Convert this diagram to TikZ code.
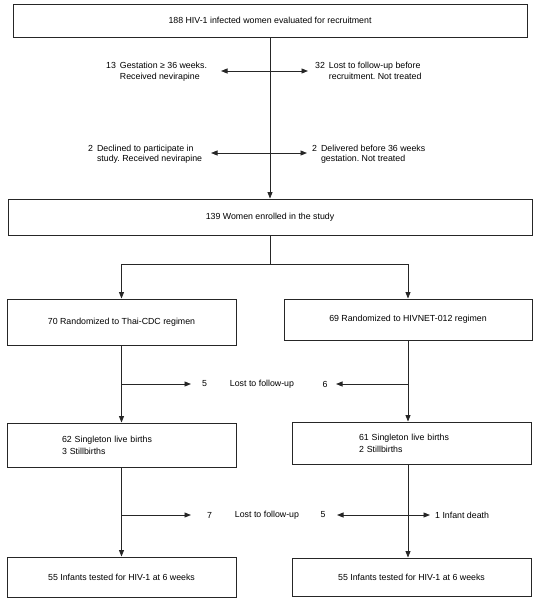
\documentclass[tikz,border=0pt]{standalone}
\usepackage{fontspec}
\setmainfont{Liberation Sans}
\usetikzlibrary{arrows.meta,positioning}
\frenchspacing

\begin{document}
\begin{tikzpicture}[x=1pt,y=-1pt]
			\tikzstyle{Box}		= [draw=black!85, line width=0.9pt, inner sep=0pt, font=\fontsize{8.8}{12}\selectfont]
			\tikzstyle{Note}	= [inner sep=0pt, font=\fontsize{8.8}{10.5}\selectfont]
			\tikzstyle{Flow}	= [black!85, line width=0.9pt]
			\tikzstyle{Tip}		= [-{Triangle[length=6.5pt,width=5pt]}]
			\useasboundingbox (0,0) rectangle (539,600);
			
			\node (recruit) at (270,20.5) [Box, minimum width=514pt, minimum height=33pt] {188 HIV-1 infected women evaluated for recruitment};
			\node (enrol) at (270,217) [Box, minimum width=524pt, minimum height=36pt] {139 Women enrolled in the study};
			\node (thai) at (121.5,322) [Box, minimum width=229pt, minimum height=46pt] {70 Randomized to Thai-CDC regimen};
			\node (hivnet) at (408,319.5) [Box, minimum width=248pt, minimum height=41pt] {69 Randomized to HIVNET-012 regimen};
			\node (birthsL) at (121.5,445) [Box, minimum width=229pt, minimum height=44pt, text width=119pt, inner xsep=55pt, align=left] {62 Singleton live births\\3 Stillbirths};
			\node (birthsR) at (411.5,443) [Box, minimum width=239pt, minimum height=42pt, text width=105pt, inner xsep=67pt, align=left] {61 Singleton live births\\2 Stillbirths};
			\node (testL) at (121.5,577) [Box, minimum width=229pt, minimum height=40pt] {55 Infants tested for HIV-1 at 6 weeks};
			\node (testR) at (411.5,577) [Box, minimum width=239pt, minimum height=38pt] {55 Infants tested for HIV-1 at 6 weeks};
			
			% exclusions before enrolment
			\node (gest) at (106,72) [Note, anchor=west] {\begin{tabular}{@{}l@{\hspace{4pt}}l@{}}13 & Gestation ≥ 36 weeks.\\ & Received nevirapine\end{tabular}};
			\node (lostpre) at (315,72) [Note, anchor=west] {\begin{tabular}{@{}l@{\hspace{4pt}}l@{}}32 & Lost to follow-up before\\ & recruitment. Not treated\end{tabular}};
			\node (declined) at (88,154.5) [Note, anchor=west] {\begin{tabular}{@{}l@{\hspace{4pt}}l@{}}2 & Declined to participate in\\ & study. Received nevirapine\end{tabular}};
			\node (early) at (312,154.5) [Note, anchor=west] {\begin{tabular}{@{}l@{\hspace{4pt}}l@{}}2 & Delivered before 36 weeks\\ & gestation. Not treated\end{tabular}};
			
			% losses after randomization
			\node (lostA) at (204.5,384) [Note] {5};
			\node (lostAtext) at (262,384) [Note] {Lost to follow-up};
			\node (lostB) at (325,384) [Note] {6};
			\node (lostC) at (209.5,515) [Note] {7};
			\node (lostCtext) at (267,515) [Note] {Lost to follow-up};
			\node (lostD) at (323,515) [Note] {5};
			\node (death) at (435,515) [Note, anchor=west] {1 Infant death};
			
			\coordinate (j1) at (270,71);
			\coordinate (j1L) at (221,71);
			\coordinate (j1R) at (308,71);
			\coordinate (j2) at (270,153);
			\coordinate (j2L) at (211,153);
			\coordinate (j2R) at (307,153);
			\coordinate (split) at (270,264);
			\coordinate (j3L) at (121.5,384);
			\coordinate (j3Ltip) at (191,384);
			\coordinate (j3R) at (408,384);
			\coordinate (j3Rtip) at (336,384);
			\coordinate (j4L) at (121.5,515);
			\coordinate (j4Ltip) at (191,515);
			\coordinate (j4R) at (408,515);
			\coordinate (j4Rl) at (337,515);
			\coordinate (j4Rr) at (430,515);
			
			\draw [Tip] (recruit) to (enrol) [Flow];
			\draw [Tip] (j1) to (j1L) [Flow];
			\draw [Tip] (j1) to (j1R) [Flow];
			\draw [Tip] (j2) to (j2L) [Flow];
			\draw [Tip] (j2) to (j2R) [Flow];
			\draw [-] (enrol) to (split) [Flow];
			\draw [Tip] (split) -| (thai) [Flow];
			\draw [Tip] (split) -| (hivnet) [Flow];
			\draw [Tip] (thai) to (birthsL) [Flow];
			\draw [Tip] (hivnet.south) to (hivnet.south |- birthsR.north) [Flow];
			\draw [Tip] (j3L) to (j3Ltip) [Flow];
			\draw [Tip] (j3R) to (j3Rtip) [Flow];
			\draw [Tip] (birthsL) to (testL) [Flow];
			\draw [Tip] (hivnet.south |- birthsR.south) to (hivnet.south |- testR.north) [Flow];
			\draw [Tip] (j4L) to (j4Ltip) [Flow];
			\draw [Tip] (j4R) to (j4Rl) [Flow];
			\draw [Tip] (j4R) to (j4Rr) [Flow];
		\end{tikzpicture}
\end{document}
